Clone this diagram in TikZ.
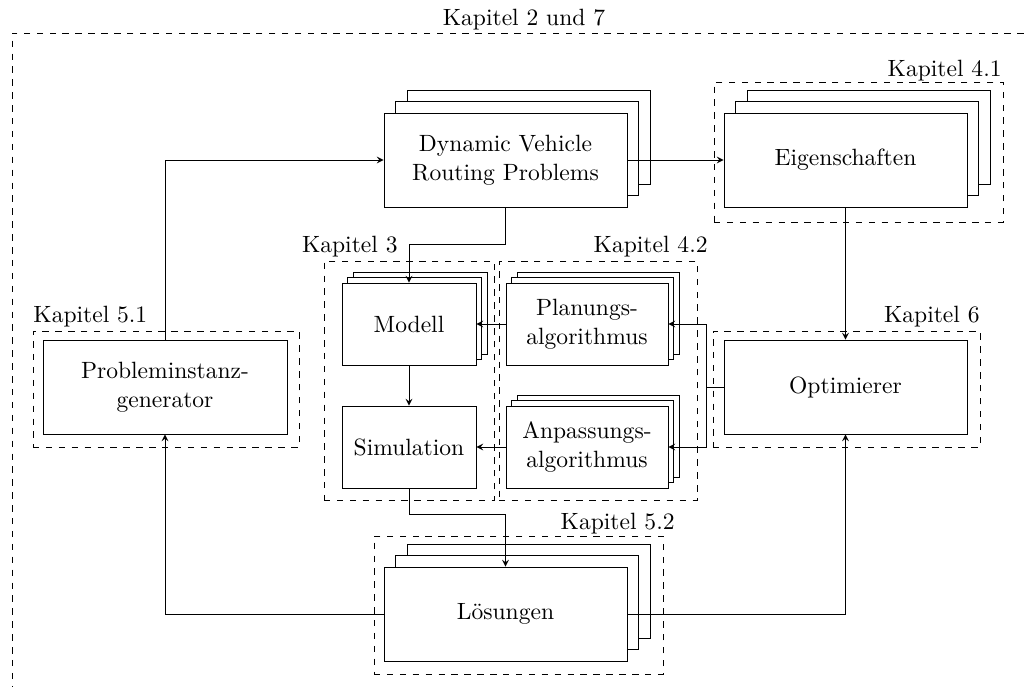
\documentclass[tikz,border=0pt]{standalone}
\usetikzlibrary{shadows,calc}

\begin{document}
\begin{tikzpicture}[
  x=0.465pt, y=-0.465pt,
  font=\fontsize{10.95}{13.6}\selectfont,
  box/.style={draw, fill=white, align=center, inner sep=2pt},
  bigbox/.style={box, minimum width=243*0.465pt, minimum height=94*0.465pt},
  smallbox/.style={box, minimum height=82*0.465pt},
  bigstack/.style={double copy shadow={shadow xshift=11.5*0.465pt, shadow yshift=11.5*0.465pt}},
  smallstack/.style={double copy shadow={shadow xshift=5.5*0.465pt, shadow yshift=5.5*0.465pt}},
  group/.style={draw, dashed, inner sep=0pt},
  grouplabel/.style={inner sep=0pt},
  arr/.style={-stealth},
]
\clip (0,0) rectangle (1027,686);

% chapter frames
\node[group, minimum width=1024*0.465pt, minimum height=667*0.465pt] (k27) at (524,366.5) {};
\node[grouplabel, anchor=base] (k27l) at (524,25) {Kapitel 2 und 7};

\node[group, minimum width=289*0.465pt, minimum height=140*0.465pt] (k41) at (858.5,152) {};
\node[grouplabel, anchor=base east] (k41l) at (1002,76) {Kapitel 4.1};

\node[group, minimum width=267*0.465pt, minimum height=116*0.465pt] (k6) at (846.5,389) {};
\node[grouplabel, anchor=base east] (k6l) at (980,322) {Kapitel 6};

\node[group, minimum width=266*0.465pt, minimum height=116*0.465pt] (k51) at (166,389) {};
\node[grouplabel, anchor=base west] (k51l) at (33,322) {Kapitel 5.1};

\node[group, minimum width=170*0.465pt, minimum height=239*0.465pt] (k3) at (409,380.5) {};
\node[grouplabel, anchor=base east] (k3l) at (398,252) {Kapitel 3};

\node[group, minimum width=198*0.465pt, minimum height=239*0.465pt] (k42) at (598,380.5) {};
\node[grouplabel, anchor=base east] (k42l) at (708,252) {Kapitel 4.2};

\node[group, minimum width=289*0.465pt, minimum height=138*0.465pt] (k52) at (518.5,605) {};
\node[grouplabel, anchor=base east] (k52l) at (675,529) {Kapitel 5.2};

% blocks
\node[bigbox, bigstack] (dvrp) at (505.5,160) {Dynamic Vehicle\\Routing Problems};
\node[bigbox, bigstack] (eig) at (845.5,160) {Eigenschaften};
\node[bigbox, minimum width=244*0.465pt] (prob) at (165,387) {Probleminstanz-\\generator};
\node[bigbox] (opt) at (845.5,387) {Optimierer};
\node[smallbox, smallstack, minimum width=134*0.465pt] (modell) at (409,324) {Modell};
\node[smallbox, minimum width=134*0.465pt] (sim) at (409,447) {Simulation};
\node[smallbox, smallstack, minimum width=162*0.465pt] (plan) at (587,324) {Planungs-\\algorithmus};
\node[smallbox, smallstack, minimum width=162*0.465pt] (anp) at (587,447) {Anpassungs-\\algorithmus};
\node[bigbox, bigstack] (loes) at (505.5,614) {L\"osungen};

% junction points of the connectors
\coordinate (j1) at (409,244);
\coordinate (j2) at (706,387);
\coordinate (j3) at (505.5,514);

% connectors
\draw[arr] (prob.north) |- (dvrp.west);
\draw[arr] (dvrp.east) -- (eig.west);
\draw[arr] (dvrp.south) |- (j1) -- (modell.north);
\draw[arr] (eig.south) -- (opt.north);
\draw[arr] (plan.west) -- (modell.east);
\draw[arr] (anp.west) -- (sim.east);
\draw[arr] (modell.south) -- (sim.north);
\draw (opt.west) -- (j2);
\draw[arr] (j2) |- (plan.east);
\draw[arr] (j2) |- (anp.east);
\draw[arr] (sim.south) |- (j3) -- (loes.north);
\draw[arr] (loes.west) -| (prob.south);
\draw[arr] (loes.east) -| (opt.south);
\end{tikzpicture}
\end{document}
